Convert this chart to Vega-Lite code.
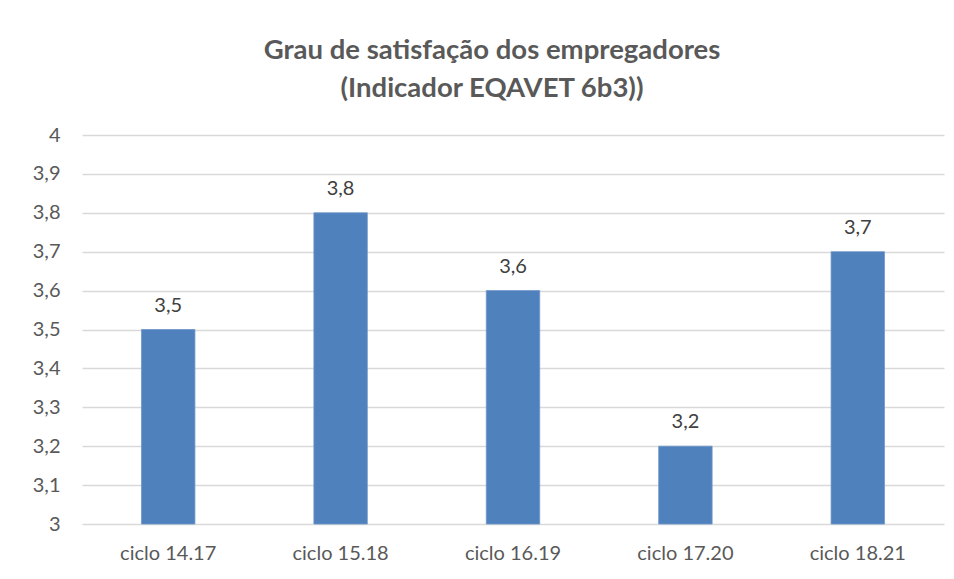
{
  "$schema": "https://vega.github.io/schema/vega-lite/v6.json",
  "width": 862,
  "height": 389,
  "autosize": {"type": "none"},
  "padding": {"left": 82, "top": 135, "right": 10, "bottom": 55},
  "background": "#ffffff",
  "config": {
    "font": "Lato",
    "view": {"stroke": null},
    "locale": {"number": {"decimal": ",", "thousands": ".", "grouping": [3], "currency": ["", " €"]}}
  },
  "title": {
    "text": ["Grau de satisfação dos empregadores", "(Indicador EQAVET 6b3))"],
    "font": "Lato",
    "fontSize": 27.5,
    "fontWeight": "bold",
    "color": "#595959",
    "lineHeight": 38,
    "anchor": "middle",
    "frame": "group",
    "dx": -21,
    "offset": 23
  },
  "data": {
    "values": [
      {"ciclo": "ciclo 14.17", "valor": 3.5},
      {"ciclo": "ciclo 15.18", "valor": 3.8},
      {"ciclo": "ciclo 16.19", "valor": 3.6},
      {"ciclo": "ciclo 17.20", "valor": 3.2},
      {"ciclo": "ciclo 18.21", "valor": 3.7}
    ]
  },
  "encoding": {
    "x": {
      "field": "ciclo",
      "type": "nominal",
      "sort": null,
      "scale": {"paddingInner": 0.69, "paddingOuter": 0.345},
      "axis": {
        "title": null,
        "labelAngle": 0,
        "labelFont": "Lato",
        "labelFontSize": 20,
        "labelColor": "#595959",
        "labelPadding": 19,
        "ticks": false,
        "domain": false
      }
    },
    "y": {
      "field": "valor",
      "type": "quantitative",
      "scale": {"domain": [3, 4], "zero": false, "nice": false},
      "axis": {
        "title": null,
        "values": [3, 3.1, 3.2, 3.3, 3.4, 3.5, 3.6, 3.7, 3.8, 3.9, 4],
        "format": ".1~f",
        "labelFont": "Lato",
        "labelFontSize": 20,
        "labelColor": "#595959",
        "labelPadding": 22,
        "ticks": false,
        "domain": false,
        "grid": true,
        "gridColor": "#d9d9d9",
        "gridWidth": 1.3
      }
    }
  },
  "layer": [
    {
      "mark": {"type": "bar", "color": "#4F81BD", "stroke": "#6f97c9", "strokeWidth": 0.8},
      "encoding": {"y2": {"datum": 3}}
    },
    {
      "mark": {"type": "text", "baseline": "alphabetic", "dy": -18, "fontSize": 20, "font": "Lato", "color": "#404040"},
      "encoding": {"text": {"field": "valor", "type": "quantitative", "format": ".1f"}}
    }
  ]
}
